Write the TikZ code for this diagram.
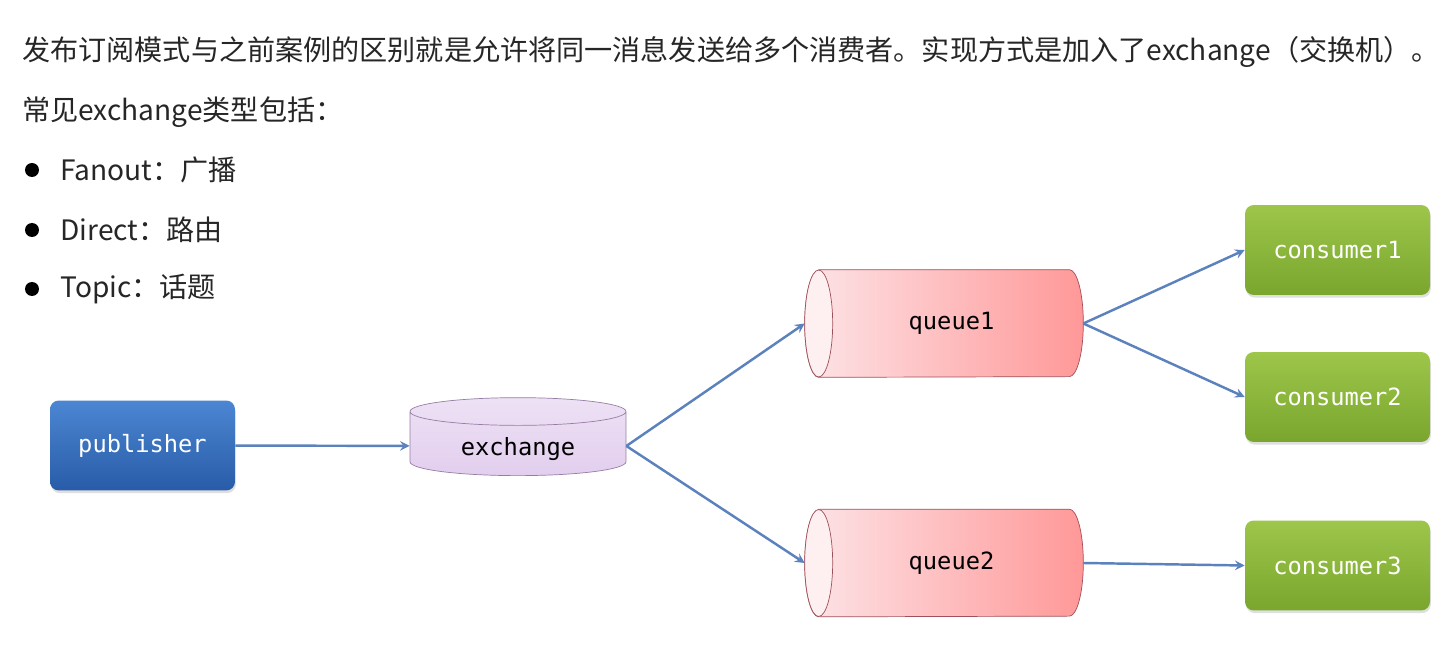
\documentclass[tikz,border=0pt]{standalone}
\usepackage{fontspec}
\setmainfont{Noto Sans CJK SC}
\setmonofont{DejaVu Sans Mono}
\usetikzlibrary{shapes.geometric, shadows, arrows, backgrounds}

\definecolor{arrowblue}{RGB}{91,130,189}
\definecolor{pubtop}{RGB}{76,134,210}
\definecolor{pubbot}{RGB}{40,92,168}
\definecolor{contop}{RGB}{157,198,74}
\definecolor{conbot}{RGB}{122,166,46}
\definecolor{queuelight}{RGB}{253,228,231}
\definecolor{queuedark}{RGB}{255,152,152}
\definecolor{queueline}{RGB}{160,80,90}
\definecolor{exfill}{RGB}{226,206,238}
\definecolor{exline}{RGB}{150,125,165}

\tikzset{
    txt/.style={anchor=west, inner sep=0pt, text=black!85, font=\fontsize{16}{19}\selectfont},
    code/.style={font=\ttfamily\fontsize{13.5}{16}\selectfont},
    codebox/.style={code, rounded corners=5pt, minimum width=3.7cm, minimum height=1.8cm,
        text=white,
        drop shadow={shadow xshift=0.5pt, shadow yshift=-1.5pt, opacity=0.25}},
    pubbox/.style={codebox, top color=pubtop, bottom color=pubbot},
    conbox/.style={codebox, top color=contop, bottom color=conbot},
    queue/.style={code, minimum width=5.56cm, minimum height=2.14cm, inner sep=0pt},
    flow/.style={->, arrowblue, line width=1.4pt}
}

\begin{document}
\begin{tikzpicture}[x=0.02cm, y=-0.02cm, >=stealth]
    \useasboundingbox (0,0) rectangle (1446,651);

    \node[txt] (intro) at (22,52) {发布订阅模式与之前案例的区别就是允许将同一消息发送给多个消费者。实现方式是加入了exchange（交换机）。};
    \node[txt] (types) at (22,112) {常见exchange类型包括：};

    \foreach \y/\name/\label in {170/fanout/Fanout：广播, 230/direct/Direct：路由, 289/topic/Topic：话题} {
        \fill (32,\y) circle (0.14cm);
        \node[txt] (\name) at (60,\y) {\label};
    }

    \node[pubbox] (publisher) at (142.5,445.5) {publisher};
    \node[cylinder, shape border rotate=90, aspect=0.22, draw=exline,
        top color=exfill!60, bottom color=exfill, minimum width=4.32cm, minimum height=1.56cm,
        code, text depth=-0.2cm] (exchange) at (518,446) {exchange};

    \node[queue] (queue1) at (944,323.5) {\hspace{0.3cm}queue1};
    \node[queue] (queue2) at (944,563) {\hspace{0.3cm}queue2};

    % queue bodies, end cap on the left
    \begin{scope}[on background layer]
    \foreach \q in {queue1, queue2} {
        \draw[queueline, left color=queuelight, right color=queuedark]
            ([xshift=0.28cm]\q.north west) -- ([xshift=-0.28cm]\q.north east)
            arc[start angle=90, end angle=-90, x radius=0.28cm, y radius=1.07cm]
            -- ([xshift=0.28cm]\q.south west)
            arc[start angle=270, end angle=90, x radius=0.28cm, y radius=1.07cm] -- cycle;
        \draw[queueline, fill=queuelight!60] ([xshift=0.28cm]\q.west) ellipse (0.28cm and 1.07cm);
    }
    \end{scope}

    \node[conbox] (consumer1) at (1337.5,250) {consumer1};
    \node[conbox] (consumer2) at (1337.5,397) {consumer2};
    \node[conbox] (consumer3) at (1337.5,565.5) {consumer3};

    \draw[flow] (publisher) -- (exchange);
    \draw[flow] (exchange.east) -- (queue1.west);
    \draw[flow] (exchange.east) -- (queue2.west);
    \draw[flow] (queue1.east) -- (consumer1.west);
    \draw[flow] (queue1.east) -- (consumer2.west);
    \draw[flow] (queue2.east) -- (consumer3.west);
\end{tikzpicture}
\end{document}
